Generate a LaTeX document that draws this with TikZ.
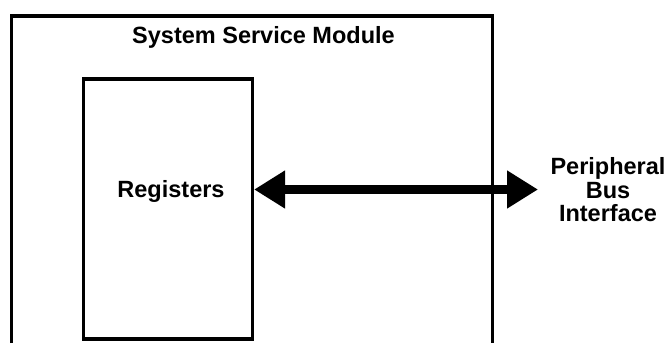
\documentclass[tikz,border=0pt]{standalone}
\usepackage{fontspec}
\setmainfont{Liberation Sans}
\usetikzlibrary{arrows.meta}
\tikzset{
  boxline/.style={draw=black, line width=3.2pt},
  lbl/.style={font=\fontsize{23.5}{23.5}\selectfont\bfseries, align=center, inner sep=0pt, anchor=base},
  busarr/.style={{Triangle[length=31pt,width=36pt]}-{Triangle[length=31pt,width=36pt]}, line width=9pt},
}
\begin{document}
\begin{tikzpicture}[x=1pt,y=-1pt]
  \useasboundingbox (0,0) rectangle (668,343);
  % module frame, open at the bottom
  \draw[boxline] (11.5,343) -- (11.5,16) -- (492.5,16) -- (492.5,343);
  \node[lbl] (ssm) at (263.5,43) {System Service Module};
  \node[boxline, minimum width=169pt, minimum height=260pt, inner sep=0pt] (regbox) at (168,209) {};
  \node[lbl] (regs) at (171,197) {Registers};
  % base anchor sits on the last line
  \node[lbl] (pbi) at (608,221.5) {Peripheral\\Bus\\Interface};
  \coordinate (busr) at (538,189.5);
  \draw[busarr] (regbox.east |- busr) -- (busr);
\end{tikzpicture}
\end{document}
